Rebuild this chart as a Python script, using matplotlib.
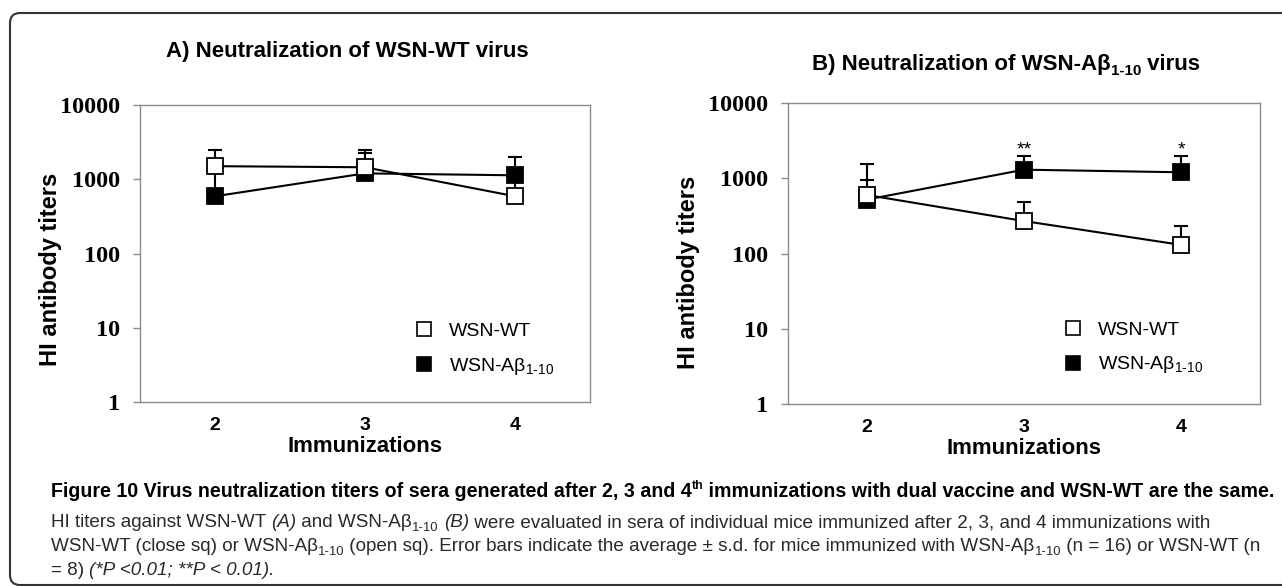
import matplotlib
matplotlib.use('Agg')
import matplotlib.pyplot as plt
import numpy as np
from matplotlib.font_manager import FontProperties, findfont
from matplotlib.lines import Line2D
from matplotlib.patches import FancyBboxPatch
from matplotlib.transforms import IdentityTransform

W, H = 1282, 586

# data
immunizations = [2, 3, 4]
yticks = [1, 10, 100, 1000, 10000]

a_wt_mean = [1500, 1450, 590]
a_wt_err = [950, 1030, 350]
a_ab_mean = [590, 1200, 1130]
a_ab_err = [650, 1030, 850]

b_wt_mean = [600, 270, 130]
b_wt_err = [360, 215, 105]
b_ab_mean = [520, 1300, 1200]
b_ab_err = [1040, 700, 800]
b_stars = ['', '**', '*']

legend_labels = ['WSN-WT', 'WSN-A\u03b2$_{\\text{1-10}}$']


def has_font(name):
    try:
        findfont(FontProperties(family=name), fallback_to_default=False)
        return True
    except ValueError:
        return False


SANS = 'Liberation Sans'
CAP = 'Liberation Sans Narrow' if has_font('Liberation Sans Narrow') else 'Liberation Sans'

plt.rcParams['mathtext.fontset'] = 'custom'
plt.rcParams['mathtext.rm'] = SANS
plt.rcParams['mathtext.it'] = SANS + ':italic'
plt.rcParams['mathtext.bf'] = SANS + ':bold'

fig = plt.figure(figsize=(W / 100, H / 100), dpi=100)
r = fig.canvas.get_renderer()

# rounded frame round the whole figure
frame = FancyBboxPatch((10, 1), 1300, 572, boxstyle='round,pad=0,rounding_size=10',
                       transform=IdentityTransform(), fill=False, ec='#333333', lw=1.5)
fig.add_artist(frame)


def adv(s, prop):
    w1 = r.get_text_width_height_descent(s + '|', prop, ismath=False)[0]
    w0 = r.get_text_width_height_descent('|', prop, ismath=False)[0]
    return w1 - w0


def make_prop(st, size):
    return FontProperties(family=st.get('family', SANS), weight=st.get('weight', 'normal'),
                          style=st.get('style', 'normal'), size=size * st.get('scale', 1.0))


def runs_width(runs, size):
    return sum(adv(s, make_prop(st, size)) for s, st in runs)


def draw_runs(x, y, runs, size, ha='left', color='black'):
    if ha == 'center':
        x -= runs_width(runs, size) / 2
    for s, st in runs:
        prop = make_prop(st, size)
        dy = st.get('dy', 0) * size * 100 / 72
        fig.text(x / W, 1 - (y + dy) / H, s, fontproperties=prop, va='baseline', ha='left',
                 color=color)
        x += adv(s, prop)


def panel(ax, wt_mean, wt_err, ab_mean, ab_err, leg_anchor, stars=None):
    zeros = np.zeros(len(immunizations))
    ax.errorbar(immunizations, ab_mean, yerr=[zeros, ab_err], fmt='none', ecolor='black',
                elinewidth=1.5, capsize=5, capthick=1.5, zorder=2)
    ax.errorbar(immunizations, wt_mean, yerr=[zeros, wt_err], fmt='none', ecolor='black',
                elinewidth=1.5, capsize=5, capthick=1.5, zorder=2)
    ax.plot(immunizations, ab_mean, '-s', color='black', lw=1.5, ms=11.5, mfc='black',
            mec='black', mew=1.3, zorder=3)
    ax.plot(immunizations, wt_mean, '-s', color='black', lw=1.5, ms=11.5, mfc='white',
            mec='black', mew=1.3, zorder=4)
    if stars:
        for x, m, e, s in zip(immunizations, ab_mean, ab_err, stars):
            if s:
                ax.annotate(s, (x, m + e), xytext=(0, 4), textcoords='offset points',
                            ha='center', va='center', fontsize=14, family=SANS)

    ax.set_yscale('log')
    ax.set_ylim(yticks[0], yticks[-1])
    ax.set_xlim(1.5, 4.5)
    ax.set_yticks(yticks)
    ax.set_yticklabels([str(v) for v in yticks], family='Liberation Serif',
                       fontweight='bold', fontsize=17.5)
    ax.yaxis.set_minor_locator(matplotlib.ticker.NullLocator())
    ax.set_xticks(immunizations)
    ax.set_xticklabels([str(v) for v in immunizations], family=SANS,
                       fontweight='bold', fontsize=14)
    ax.tick_params(axis='y', direction='out', length=5, width=1, color='#8c8c8c', pad=9)
    ax.tick_params(axis='x', length=0, pad=11)
    for sp in ax.spines.values():
        sp.set_color('#8c8c8c')
        sp.set_linewidth(1)
    ax.text(0.5, -44 / 297, 'Immunizations', transform=ax.transAxes, ha='center',
            va='center', fontsize=16, fontweight='bold', family=SANS)

    handles = [Line2D([], [], ls='none', marker='s', ms=10, mfc='white', mec='black', mew=1.2),
               Line2D([], [], ls='none', marker='s', ms=10, mfc='black', mec='black', mew=1.2)]
    ax.legend(handles, legend_labels, loc='upper left', bbox_to_anchor=leg_anchor,
              frameon=False, borderpad=0, borderaxespad=0, handlelength=1.0,
              handletextpad=0.8, labelspacing=0.82, prop=FontProperties(family=SANS, size=14))


axA = fig.add_axes([140 / W, 1 - 402 / H, 450 / W, 297 / H])
axB = fig.add_axes([788 / W, 1 - 404 / H, 472 / W, 301 / H])
panel(axA, a_wt_mean, a_wt_err, a_ab_mean, a_ab_err, (0.609, 0.269))
panel(axB, b_wt_mean, b_wt_err, b_ab_mean, b_ab_err, (0.583, 0.276), b_stars)

for xpx, ypx in [(51, 269), (689, 272)]:
    fig.text(xpx / W, 1 - ypx / H, 'HI antibody titers', rotation=90, ha='center',
             va='center', fontsize=17, fontweight='bold', family=SANS)

# panel titles
BOLD = {'weight': 'bold'}
SUBB = {'weight': 'bold', 'scale': 0.68, 'dy': 0.22}
draw_runs(347, 57, [('A) Neutralization of WSN-WT virus', BOLD)], 16, ha='center')
draw_runs(1006, 70, [('B) Neutralization of WSN-A\u03b2', BOLD), ('1-10', SUBB),
                     (' virus', BOLD)], 16, ha='center')

# caption
CB = {'family': CAP, 'weight': 'bold'}
CBS = {'family': CAP, 'weight': 'bold', 'scale': 0.62, 'dy': -0.42}
CR = {'family': CAP}
CI = {'family': CAP, 'style': 'italic'}
CS = {'family': CAP, 'scale': 0.7, 'dy': 0.22}

line1 = [('Figure 10 Virus neutralization titers of sera generated after 2, 3 and 4', CB),
         ('th', CBS),
         (' immunizations with dual vaccine and WSN-WT are the same.', CB)]
line2 = [('HI titers against WSN-WT ', CR), ('(A)', CI), (' and WSN-A\u03b2', CR), ('1-10', CS),
         (' ', CR), ('(B)', CI),
         (' were evaluated in sera of individual mice immunized after 2, 3, and 4 immunizations with', CR)]
line3 = [('WSN-WT (close sq) or WSN-A\u03b2', CR), ('1-10', CS),
         (' (open sq). Error bars indicate the average \u00b1 s.d. for mice immunized with WSN-A\u03b2', CR),
         ('1-10', CS), (' (n = 16) or WSN-WT (n', CR)]
line4 = [('= 8) ', CR), ('(*P <0.01; **P < 0.01).', CI)]

s1 = 12 * 1220 / runs_width(line1, 12)
s2 = 12 * 1147 / runs_width(line2, 12)
s3 = 12 * 1224 / runs_width(line3, 12)
sr = (s2 + s3) / 2
draw_runs(51, 497, line1, s1)
draw_runs(51, 527, line2, sr, color='#2a2a2a')
draw_runs(51, 551, line3, sr, color='#2a2a2a')
draw_runs(51, 575, line4, sr, color='#2a2a2a')

fig.savefig('out.png', dpi=100)
